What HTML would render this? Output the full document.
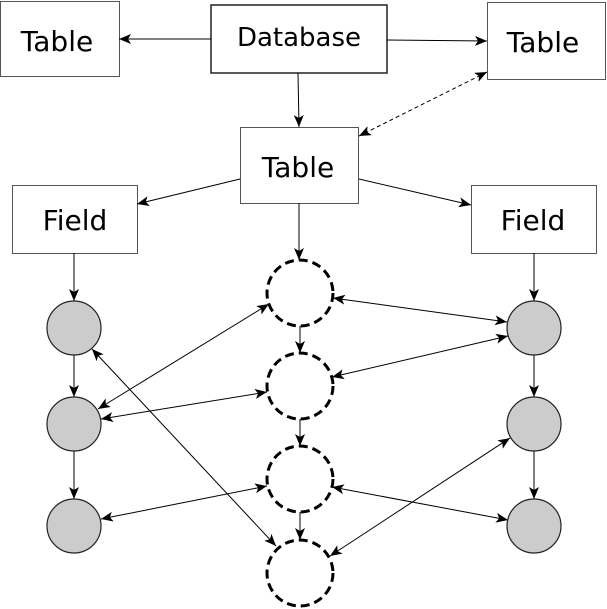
<!DOCTYPE html>
<html><head><style>
body{margin:0;background:#fff;}
svg{display:block;font-family:"DejaVu Sans","Liberation Sans",sans-serif;}
</style></head><body>
<svg width="607" height="609" viewBox="0 0 607 609" xmlns="http://www.w3.org/2000/svg">
<defs>
<marker id="a" viewBox="0 0 12 10" refX="12" refY="5" markerWidth="12" markerHeight="10" markerUnits="userSpaceOnUse" orient="auto-start-reverse">
<path d="M0,0 L12,5 L0,10 L3,5 z" fill="#000"/>
</marker>
</defs>
<g fill="#fff" stroke="#555" stroke-width="1">
<rect x="0.5" y="1.5" width="119" height="75"/>
<rect x="487.5" y="2.5" width="118" height="77"/>
<rect x="240.5" y="127.5" width="118" height="76"/>
<rect x="12.5" y="185.5" width="125" height="68"/>
<rect x="471.5" y="185.5" width="125" height="68"/>
</g>
<rect x="211" y="5" width="176" height="68" fill="#fff" stroke="#222" stroke-width="1.5"/>
<g font-size="28" text-anchor="middle" fill="#000">
<text x="299" y="46" font-size="26">Database</text>
<text x="57" y="51">Table</text>
<text x="543" y="52">Table</text>
<text x="298" y="177">Table</text>
<text x="75" y="230">Field</text>
<text x="533" y="230">Field</text>
</g>
<g stroke="#000" stroke-width="1" fill="none" marker-end="url(#a)">
<line x1="211" y1="39" x2="119" y2="39"/>
<line x1="387" y1="40" x2="487" y2="41"/>
<line x1="298" y1="73" x2="299" y2="127"/>
<line x1="240" y1="179" x2="137" y2="204"/>
<line x1="359" y1="179" x2="471" y2="205"/>
<line x1="299" y1="203" x2="299" y2="260"/>
<line x1="74" y1="253" x2="74" y2="301"/>
<line x1="534" y1="253" x2="534" y2="301"/>
<line x1="74" y1="355" x2="74" y2="397"/>
<line x1="74" y1="451" x2="74" y2="499"/>
<line x1="534" y1="355" x2="534" y2="397"/>
<line x1="534" y1="451" x2="534" y2="499"/>
<line x1="300" y1="326" x2="300" y2="353"/>
<line x1="300" y1="419" x2="300" y2="446"/>
<line x1="300" y1="512" x2="300" y2="540"/>
</g>
<line x1="487" y1="72" x2="359" y2="136" stroke="#000" stroke-dasharray="4,3" marker-start="url(#a)" marker-end="url(#a)"/>
<g stroke="#000" stroke-width="1" fill="none" marker-start="url(#a)" marker-end="url(#a)">
<line x1="98" y1="409" x2="269" y2="304"/>
<line x1="101" y1="419" x2="267" y2="392"/>
<line x1="101" y1="519" x2="267" y2="486"/>
<line x1="92" y1="349" x2="276" y2="546"/>
<line x1="333" y1="298" x2="507" y2="322"/>
<line x1="332" y1="377" x2="508" y2="336"/>
<line x1="332" y1="487" x2="508" y2="520"/>
<line x1="510" y1="438" x2="330" y2="556"/>
</g>
<g fill="#cccccc" stroke="#222" stroke-width="1.2">
<circle cx="74" cy="328" r="27"/>
<circle cx="74" cy="424" r="27"/>
<circle cx="74" cy="526" r="27"/>
<circle cx="534" cy="328" r="27"/>
<circle cx="534" cy="424" r="27"/>
<circle cx="534" cy="526" r="27"/>
</g>
<g fill="none" stroke="#000" stroke-width="3" stroke-dasharray="9,5">
<circle cx="300" cy="293" r="33"/>
<circle cx="300" cy="386" r="33"/>
<circle cx="300" cy="479" r="33"/>
<circle cx="300" cy="573" r="33"/>
</g>
</svg>
</body></html>
